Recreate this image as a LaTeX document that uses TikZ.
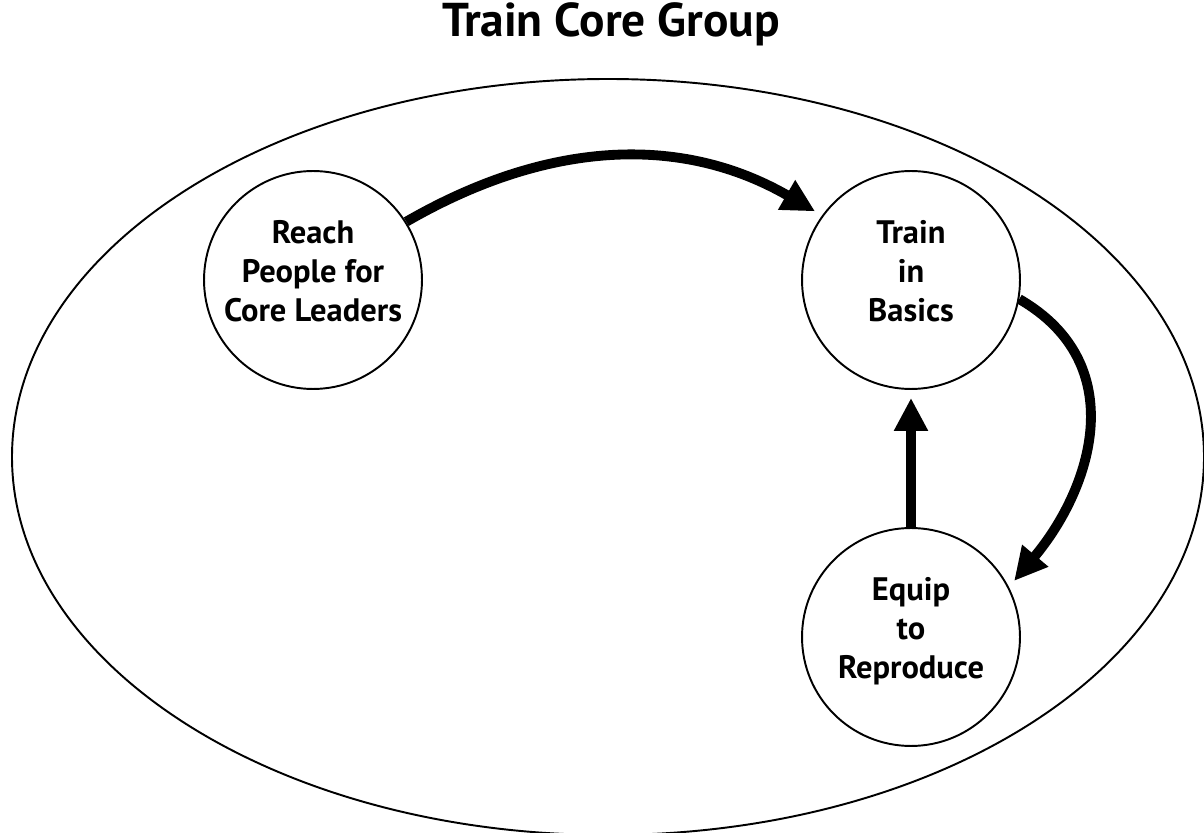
\documentclass[tikz,border=0pt]{standalone}
\usepackage{fontspec}
\setmainfont{PT Sans}
\usetikzlibrary{arrows.meta, positioning}

\begin{document}
\begin{tikzpicture}[x=0.02cm, y=0.02cm,
  stage/.style={circle, draw, line width=1.1pt, minimum size=4.36cm, inner sep=0pt,
    align=center, text depth=0.36cm, font=\fontsize{18.5}{22.1}\selectfont\bfseries},
  flow/.style={line width=5.6pt, -{Triangle[length=0.66cm, width=0.64cm]}, shorten >=0.16cm}]
\useasboundingbox (0,0) rectangle (1204,832);

% Title
\node[font=\fontsize{27}{32}\selectfont\bfseries, anchor=base] (title) at (611,795) {Train Core Group};

% Group outline
\draw[line width=1.1pt] (608,375) ellipse [x radius=596, y radius=378];

% Stages
\node[stage] (reach) at (313,552) {Reach\\People for\\Core Leaders};
\node[stage] (train) at (911,552) {Train\\in\\Basics};
\node[stage] (equip) at (911,195) {Equip\\to\\Reproduce};

% Flow between stages
\draw[flow] (reach.32) to[out=30, in=150] (train.144);
\draw[flow] (train.-10) to[out=-30, in=50, looseness=1.15] (equip.27);
\draw[flow] (equip.north) -- (train.south);
\end{tikzpicture}
\end{document}
